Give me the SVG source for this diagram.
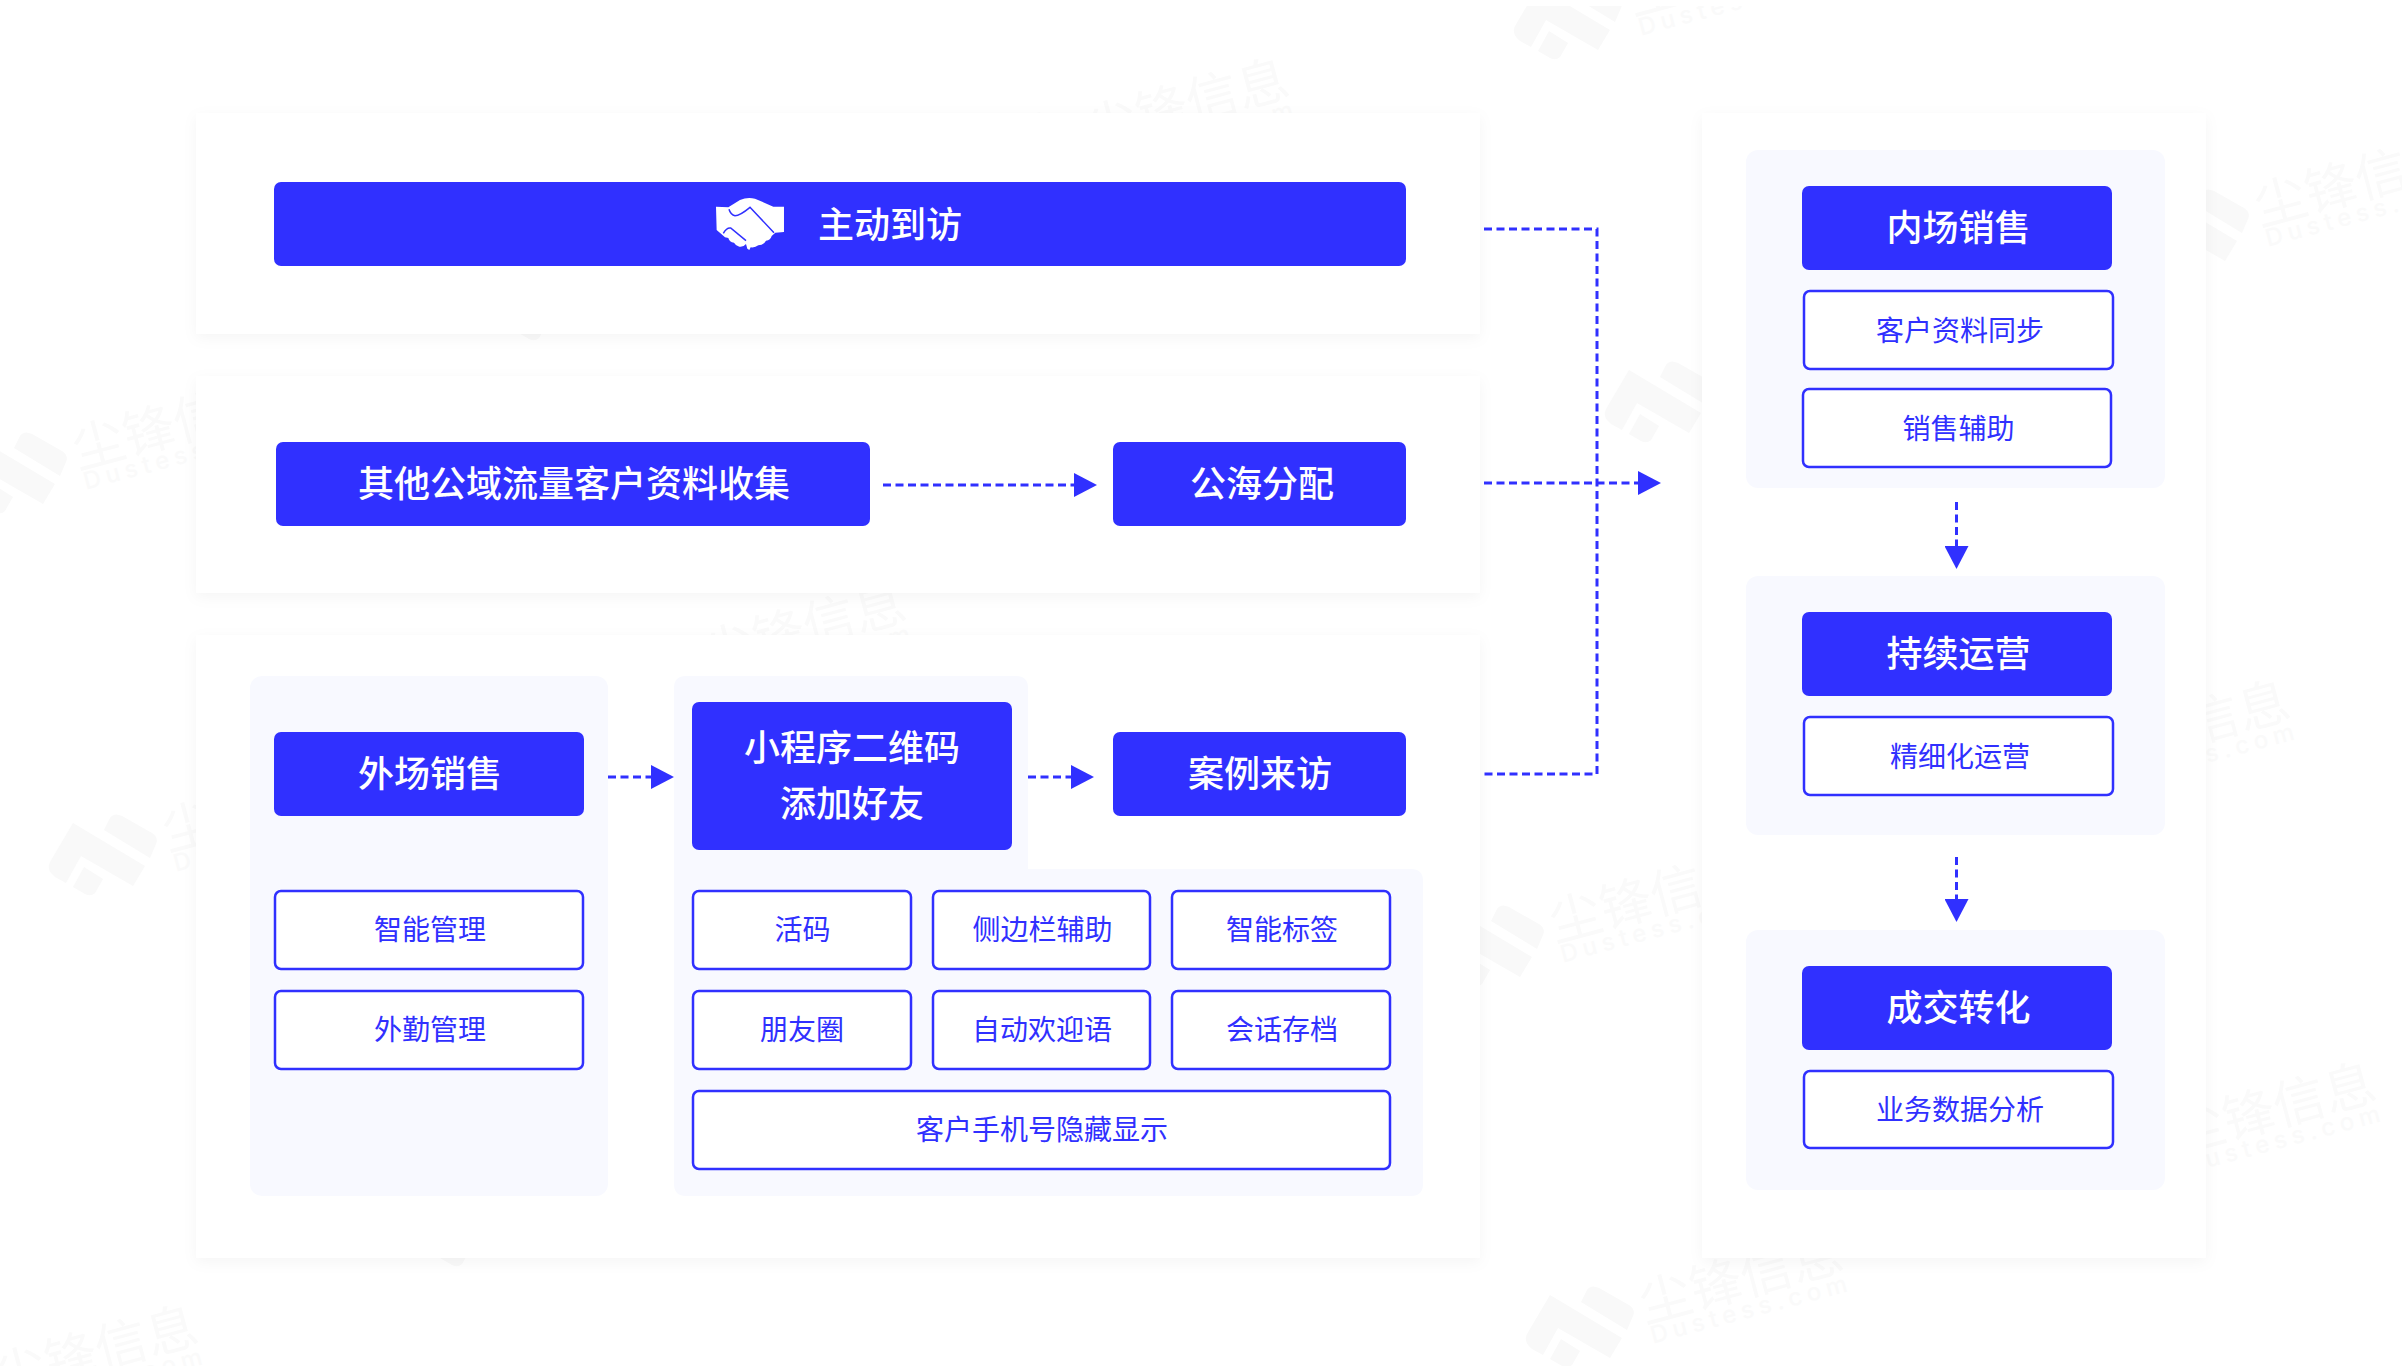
<svg xmlns="http://www.w3.org/2000/svg" width="2402" height="1366" viewBox="0 0 2402 1366">
<style>
.t{font-family:"Noto Sans CJK SC","Noto Sans",sans-serif;text-anchor:middle}
.h{font-size:36px;fill:#fff;font-weight:500}
.s{font-size:28px;fill:#3030ff}
.solid{fill:#3030ff}
.out{fill:#fff;stroke:#3030ff;stroke-width:2.5}
.panel{fill:#f8f9ff}
.card{fill:#fff;filter:url(#sh)}
.c{fill:none;stroke:#3030ff;stroke-width:3;stroke-dasharray:8 4.5}
.wt{font-family:"Noto Sans CJK SC",sans-serif;font-size:52px;fill:#fafafa}
.wl{font-family:"Inter",sans-serif;font-size:24px;font-weight:500;letter-spacing:5.3px;fill:#fafafa}
</style>
<defs>
<filter id="sh" x="-5%" y="-10%" width="110%" height="120%"><feDropShadow dx="0" dy="4" stdDeviation="7" flood-color="#000" flood-opacity="0.04"/></filter>
<marker id="a" markerUnits="userSpaceOnUse" markerWidth="23" markerHeight="24" viewBox="0 0 23 24" refX="0" refY="12" orient="auto"><path d="M0 0L23 12L0 24Z" fill="#3030ff"/></marker>
<g id="wm">
<path fill="#f9f9f9" d="M-95 -27L-23 16L-35 36L-87 6L-102 33L-113 27Q-122 20 -118 12Z M-58 -32Q-54 -38 -46 -34L-16 -17Q-9 -12 -12 -6L-18 8L-64 -20Z M-84 17L-65 29L-73 43Q-77 47 -83 44L-95 37Z"/>
<g transform="rotate(-15)"><text class="wt" x="0" y="1">尘锋信息</text>
<text class="wl" x="2" y="23">Dustess.com</text></g>
</g>
</defs>
<rect width="2402" height="1366" fill="#fff"/>
<g id="watermarks">
<use href="#wm" transform="translate(78 468)"/>
<use href="#wm" transform="translate(2260 225)"/>
<use href="#wm" transform="translate(1633 14)"/>
<use href="#wm" transform="translate(1091 148)"/>
<use href="#wm" transform="translate(168 850)"/>
<use href="#wm" transform="translate(708 672)"/>
<use href="#wm" transform="translate(1724 397)"/>
<use href="#wm" transform="translate(1555 941)"/>
<use href="#wm" transform="translate(2092 770)"/>
<use href="#wm" transform="translate(2178 1152)"/>
<use href="#wm" transform="translate(0 1395)"/>
<use href="#wm" transform="translate(1645 1322)"/>
<use href="#wm" transform="translate(612 295)"/>
<use href="#wm" transform="translate(535 1221)"/>
<rect width="2402" height="6" fill="#fff"/>
</g>
<g id="cards">
<rect class="card" x="196" y="113" width="1284" height="221"/>
<rect class="card" x="196" y="376" width="1284" height="217"/>
<rect class="card" x="196" y="635" width="1284" height="623"/>
<rect class="card" x="1702" y="113" width="504" height="1145"/>
</g>
<g id="panels">
<rect class="panel" x="250" y="676" width="358" height="520" rx="12"/>
<path class="panel" d="M686 676H1016Q1028 676 1028 688V869H1411Q1423 869 1423 881V1184Q1423 1196 1411 1196H686Q674 1196 674 1184V688Q674 676 686 676Z"/>
<rect class="panel" x="1746" y="150" width="419" height="338" rx="12"/>
<rect class="panel" x="1746" y="576" width="419" height="259" rx="12"/>
<rect class="panel" x="1746" y="930" width="419" height="260" rx="12"/>
</g>
<g id="connectors">
<path class="c" d="M1484 229H1597V774H1484"/>
<path class="c" d="M1484 483H1638" marker-end="url(#a)"/>
<path class="c" d="M883 485H1074" marker-end="url(#a)"/>
<path class="c" d="M608 777H651" marker-end="url(#a)"/>
<path class="c" d="M1028 777H1071" marker-end="url(#a)"/>
<path class="c" d="M1956.5 502V546" marker-end="url(#a)"/>
<path class="c" d="M1956.5 857V899" marker-end="url(#a)"/>
</g>
<g id="n-visit"><rect class="solid" x="274" y="182" width="1132" height="84" rx="7"/>
<g transform="translate(660 150) scale(.3333)"><path fill="#fff" d="M168 170L205 172L240 150Q262 140 285 146L340 170H372V246L346 248L335 258Q332 270 318 272Q312 284 295 286Q285 294 272 292L268 300L262 296L258 282Q250 292 238 290Q226 286 222 278Q208 276 205 264L195 262L170 240Z"/><path fill="none" stroke="#3030ff" stroke-width="4.5" d="M207 178Q212 195 225 197Q240 197 270 172L342 248M190 250Q200 232 212 234L258 272"/></g>
<text class="t h" x="890" y="237.5">主动到访</text></g>
<g id="n-collect"><rect class="solid" x="276" y="442" width="594" height="84" rx="7"/><text class="t h" x="574" y="497">其他公域流量客户资料收集</text></g>
<g id="n-pool"><rect class="solid" x="1113" y="442" width="293" height="84" rx="7"/><text class="t h" x="1262" y="497">公海分配</text></g>
<g id="n-field"><rect class="solid" x="274" y="732" width="310" height="84" rx="7"/><text class="t h" x="430" y="787">外场销售</text></g>
<g id="n-smart"><rect class="out" x="275" y="891" width="308" height="78" rx="6"/><text class="t s" x="430" y="940">智能管理</text></g>
<g id="n-attend"><rect class="out" x="275" y="991" width="308" height="78" rx="6"/><text class="t s" x="430" y="1040">外勤管理</text></g>
<g id="n-qr"><rect class="solid" x="692" y="702" width="320" height="148" rx="7"/><text class="t h" x="852" y="761">小程序二维码</text><text class="t h" x="852" y="817">添加好友</text></g>
<g id="n-case"><rect class="solid" x="1113" y="732" width="293" height="84" rx="7"/><text class="t h" x="1260" y="787">案例来访</text></g>
<g id="n-live"><rect class="out" x="693" y="891" width="218" height="78" rx="6"/><text class="t s" x="802.5" y="940">活码</text></g>
<g id="n-side"><rect class="out" x="933" y="891" width="217" height="78" rx="6"/><text class="t s" x="1042.5" y="940">侧边栏辅助</text></g>
<g id="n-tag"><rect class="out" x="1172" y="891" width="218" height="78" rx="6"/><text class="t s" x="1282" y="940">智能标签</text></g>
<g id="n-moments"><rect class="out" x="693" y="991" width="218" height="78" rx="6"/><text class="t s" x="802" y="1040">朋友圈</text></g>
<g id="n-welcome"><rect class="out" x="933" y="991" width="217" height="78" rx="6"/><text class="t s" x="1042" y="1040">自动欢迎语</text></g>
<g id="n-archive"><rect class="out" x="1172" y="991" width="218" height="78" rx="6"/><text class="t s" x="1282" y="1040">会话存档</text></g>
<g id="n-phone"><rect class="out" x="693" y="1091" width="697" height="78" rx="6"/><text class="t s" x="1042" y="1140">客户手机号隐藏显示</text></g>
<g id="n-inside"><rect class="solid" x="1802" y="186" width="310" height="84" rx="7"/><text class="t h" x="1958.5" y="241">内场销售</text></g>
<g id="n-sync"><rect class="out" x="1804" y="291" width="309" height="78" rx="6"/><text class="t s" x="1960" y="340.5">客户资料同步</text></g>
<g id="n-assist"><rect class="out" x="1803" y="389" width="308" height="78" rx="6"/><text class="t s" x="1958.5" y="439">销售辅助</text></g>
<g id="n-ops"><rect class="solid" x="1802" y="612" width="310" height="84" rx="7"/><text class="t h" x="1958.5" y="667">持续运营</text></g>
<g id="n-fine"><rect class="out" x="1804" y="717" width="309" height="78" rx="6"/><text class="t s" x="1960" y="766.5">精细化运营</text></g>
<g id="n-deal"><rect class="solid" x="1802" y="966" width="310" height="84" rx="7"/><text class="t h" x="1958.5" y="1021">成交转化</text></g>
<g id="n-data"><rect class="out" x="1804" y="1071" width="309" height="77" rx="6"/><text class="t s" x="1960" y="1120">业务数据分析</text></g>
</svg>
